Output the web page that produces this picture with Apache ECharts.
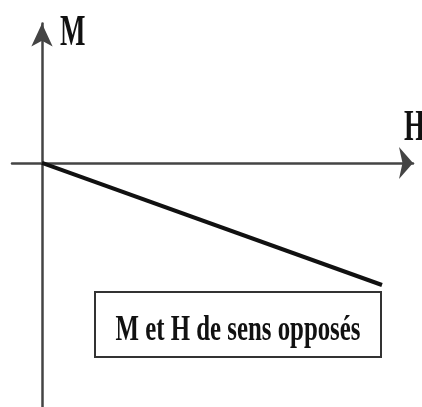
<!DOCTYPE html>
<html>
<head>
<meta charset="utf-8">
<script src="https://cdn.jsdelivr.net/npm/echarts@6/dist/echarts.min.js"></script>
<style>
  html, body { margin: 0; padding: 0; background: #fff; }
  #chart { width: 422px; height: 407px; }
</style>
</head>
<body>
<div id="chart"></div>
<script>
// Magnetisation M against field H: a straight line going down from the origin
const fieldH = [0, 10];
const magnetM = [0, -3.6];
const axisNames = { x: 'H', y: 'M' };
const caption = 'M et H de sens opposés';

const chart = echarts.init(document.getElementById('chart'));
const serif = '"Liberation Serif", "Times New Roman", serif';

chart.setOption({
  backgroundColor: '#fff',
  animation: false,
  grid: { left: 12, right: 9, top: 23.5, bottom: 0 },
  xAxis: {
    type: 'value', min: -0.882, max: 10.912,
    axisLine: { onZero: true, symbol: ['none', 'arrow'], symbolSize: [24, 14],
      lineStyle: { color: '#444', width: 2.5 } },
    axisTick: { show: false }, axisLabel: { show: false }, splitLine: { show: false }
  },
  yAxis: {
    type: 'value', min: -7.2, max: 4.116,
    axisLine: { onZero: true, symbol: ['none', 'arrow'], symbolSize: [16, 23],
      lineStyle: { color: '#444', width: 2.5 } },
    axisTick: { show: false }, axisLabel: { show: false }, splitLine: { show: false }
  },
  series: [{
    type: 'line',
    data: fieldH.map((h, i) => [h, magnetM[i]]),
    symbol: 'none',
    lineStyle: { color: '#111', width: 4 }
  }],
  graphic: [
    { type: 'text', x: 60, y: 33, scaleX: 0.6,
      style: { text: axisNames.y, font: 'bold 45px ' + serif, fill: '#111',
        textAlign: 'left', textVerticalAlign: 'middle' } },
    { type: 'text', x: 404, y: 128, scaleX: 0.6,
      style: { text: axisNames.x, font: 'bold 45px ' + serif, fill: '#111',
        textAlign: 'left', textVerticalAlign: 'middle' } },
    { type: 'rect', shape: { x: 95, y: 292, width: 286, height: 65 },
      style: { fill: '#fff', stroke: '#333', lineWidth: 2 } },
    { type: 'text', x: 238, y: 331, scaleX: 0.69,
      style: { text: caption, font: 'bold 36px ' + serif, fill: '#111',
        textAlign: 'center', textVerticalAlign: 'middle' } }
  ]
});
</script>
</body>
</html>
